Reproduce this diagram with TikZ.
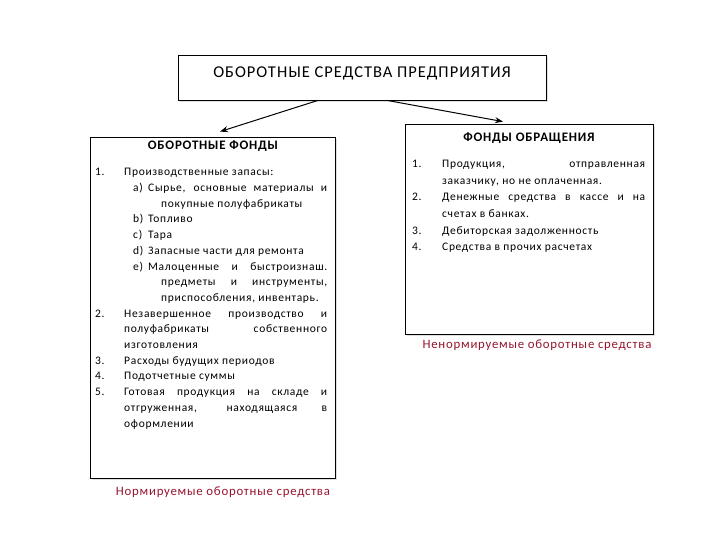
\documentclass[tikz,border=0pt]{standalone}
\usepackage{fontspec}
\setmainfont{Carlito}[LetterSpace=6]
\usetikzlibrary{arrows.meta,shadows}
\definecolor{normred}{RGB}{150,20,45}
% list entries: top level and lettered sub level
\newcommand{\fonditem}[1]{\par\leftskip=29pt\relax\noindent\llap{\makebox[29pt][l]{#1}}\ignorespaces}
\newcommand{\partitem}[1]{\par\leftskip=66pt\relax\noindent\hspace*{-13pt}\llap{\makebox[15pt][l]{#1}}\ignorespaces}
\newcommand{\rightitem}[1]{\par\leftskip=30pt\relax\noindent\llap{\makebox[30pt][l]{#1}}\ignorespaces}

\begin{document}
\begin{tikzpicture}[x=1pt,y=-1pt]
    \tikzstyle{box}=[draw, line width=0.8pt, fill=white, inner sep=0pt,
        drop shadow={shadow xshift=2pt, shadow yshift=-2pt, opacity=0.25}]
    \tikzstyle{listtext}=[anchor=north west, inner sep=0pt, align=justify, font=\fontsize{11.5}{15.7}\selectfont]
    \tikzstyle{normlabel}=[text=normred, inner sep=0pt, font=\fontsize{12.8}{15}\selectfont]
    \useasboundingbox (0,0) rectangle (720,540);

    % boxes
    \node[box, minimum width=368pt, minimum height=45pt] (enterprise) at (362,77.5) {};
    \node[box, minimum width=245pt, minimum height=341pt] (fixed) at (212.5,307.5) {};
    \node[box, minimum width=248pt, minimum height=210pt] (circ) at (529,229) {};

    % titles
    \node[inner sep=0pt, font=\fontsize{16.5}{19}\selectfont] (enterprisetitle) at (362,73) {ОБОРОТНЫЕ СРЕДСТВА ПРЕДПРИЯТИЯ};
    \node[inner sep=0pt, font=\bfseries\fontsize{13}{15}\selectfont] (fixedtitle) at (213,146) {ОБОРОТНЫЕ ФОНДЫ};
    \node[inner sep=0pt, font=\bfseries\fontsize{13}{15}\selectfont] (circtitle) at (529,138) {ФОНДЫ ОБРАЩЕНИЯ};

    % lists
    \node[listtext, text width=232pt] (fixedlist) at (95,160) {\hyphenpenalty=10000\exhyphenpenalty=10000
        \fonditem{1.}Производственные запасы:
        \partitem{a)}Сырье, основные материалы и\linebreak покупные полуфабрикаты
        \partitem{b)}Топливо
        \partitem{c)}Тара
        \partitem{d)}Запасные части для ремонта
        \partitem{e)}Малоценные и быстроизнаш.\linebreak предметы и инструменты,\linebreak приспособления, инвентарь.
        \fonditem{2.}Незавершенное производство и\linebreak полуфабрикаты собственного\linebreak изготовления
        \fonditem{3.}Расходы будущих периодов
        \fonditem{4.}Подотчетные суммы
        \fonditem{5.}Готовая продукция на складе и\linebreak отгруженная, находящаяся в\linebreak оформлении\par};
    \node[listtext, text width=233pt, font=\fontsize{11.5}{16.6}\selectfont] (circlist) at (412,151) {\hyphenpenalty=10000\exhyphenpenalty=10000
        \rightitem{1.}Продукция, отправленная\linebreak заказчику, но не оплаченная.
        \rightitem{2.}Денежные средства в кассе и на\linebreak счетах в банках.
        \rightitem{3.}Дебиторская задолженность
        \rightitem{4.}Средства в прочих расчетах\par};

    % red captions
    \node[normlabel] (fixednorm) at (223,492) {Нормируемые оборотные средства};
    \node[normlabel] (circnorm) at (537,345) {Ненормируемые оборотные средства};

    % arrows
    \draw[-{Stealth[length=8pt,width=6pt]}, line width=1pt] ([xshift=-44pt]enterprise.south) -- ([xshift=7.5pt,yshift=5pt]fixed.north);
    \draw[-{Stealth[length=8pt,width=6pt]}, line width=1pt] ([xshift=25pt]enterprise.south) -- ([xshift=-26pt,yshift=2pt]circ.north);
\end{tikzpicture}
\end{document}
